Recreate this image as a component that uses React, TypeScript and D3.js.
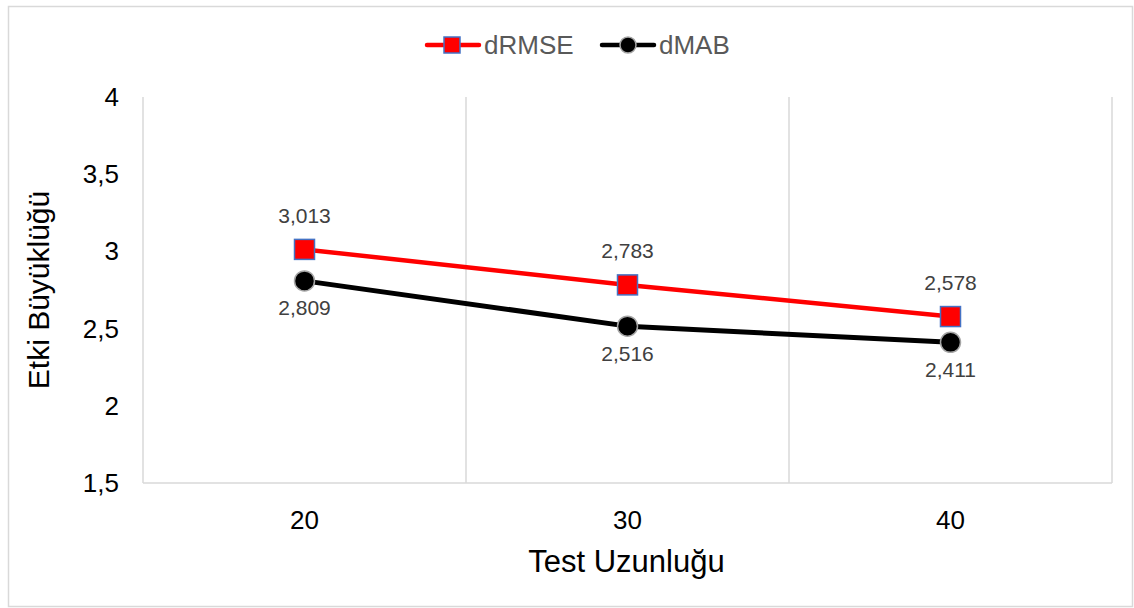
import React from "react";
import * as d3 from "d3";

const categories = ["20", "30", "40"];
const dRMSE = [3.013, 2.783, 2.578];
const dMAB = [2.809, 2.516, 2.411];
const yTicks = [1.5, 2, 2.5, 3, 3.5, 4];

const W = 1134, H = 608;
const left = 143, right = 1112, top = 97, bottom = 483;

export default function App() {
  const x = d3.scaleBand<string>().domain(categories).range([left, right]).padding(0);
  const y = d3.scaleLinear().domain([1.5, 4]).range([bottom, top]);
  const cx = (c: string) => (x(c) as number) + x.bandwidth() / 2;
  const line = d3.line<number>().x((_, i) => cx(categories[i])).y((d) => y(d));
  const fmt = (v: number) => v.toFixed(3).replace(".", ",");
  const fmtTick = (v: number) => String(v).replace(".", ",");
  const font = "Arial, 'Liberation Sans', sans-serif";
  const boundaries = [...categories.map((c) => x(c) as number), right];

  return (
    <svg width={W} height={H} style={{ position: "absolute", left: 0, top: 0 }} fontFamily={font}>
      <rect x={0} y={0} width={W} height={H} fill="#fff" />
      <rect x={8.5} y={6.5} width={1124} height={600} fill="#fff" stroke="#d9d9d9" strokeWidth={1.5} />
      {boundaries.map((b, i) => (
        <line key={i} x1={b} x2={b} y1={top} y2={bottom} stroke="#d9d9d9" strokeWidth={1.5} />
      ))}
      <line x1={left} x2={right} y1={bottom} y2={bottom} stroke="#d9d9d9" strokeWidth={1.5} />
      {yTicks.map((t) => (
        <text key={t} x={119} y={y(t)} textAnchor="end" dominantBaseline="central" fontSize={26} fill="#000">
          {fmtTick(t)}
        </text>
      ))}
      {categories.map((c) => (
        <text key={c} x={cx(c)} y={520} textAnchor="middle" dominantBaseline="central" fontSize={26} fill="#000">
          {c}
        </text>
      ))}
      <text x={(left + right) / 2 - 1} y={561} textAnchor="middle" dominantBaseline="central" fontSize={31} fill="#000">
        Test Uzunluğu
      </text>
      <text transform={`translate(38,${(top + bottom) / 2}) rotate(-90)`} textAnchor="middle" dominantBaseline="central" fontSize={30} fill="#000">
        Etki Büyüklüğü
      </text>
      <path d={line(dRMSE) || ""} fill="none" stroke="#ff0000" strokeWidth={4.5} strokeLinejoin="round" />
      <path d={line(dMAB) || ""} fill="none" stroke="#000" strokeWidth={5} strokeLinejoin="round" />
      {dRMSE.map((v, i) => (
        <g key={i}>
          <rect x={cx(categories[i]) - 10} y={y(v) - 10} width={20} height={20} fill="#ff0000" stroke="#4472c4" strokeWidth={1.5} />
          <text x={cx(categories[i])} y={y(v) - 34} textAnchor="middle" dominantBaseline="central" fontSize={21} fill="#404040">
            {fmt(v)}
          </text>
        </g>
      ))}
      {dMAB.map((v, i) => (
        <g key={i}>
          <circle cx={cx(categories[i])} cy={y(v)} r={10} fill="#000" stroke="#a5a5a5" strokeWidth={1.5} />
          <text x={cx(categories[i])} y={y(v) + 27} textAnchor="middle" dominantBaseline="central" fontSize={21} fill="#404040">
            {fmt(v)}
          </text>
        </g>
      ))}
      {/* legend */}
      <g>
        <line x1={427} x2={479} y1={45} y2={45} stroke="#ff0000" strokeWidth={4.5} strokeLinecap="round" />
        <rect x={444} y={37} width={16} height={16} fill="#ff0000" stroke="#4472c4" strokeWidth={1.5} />
        <text x={484} y={45} dominantBaseline="central" fontSize={26} fill="#595959">dRMSE</text>
        <line x1={602} x2={654} y1={45} y2={45} stroke="#000" strokeWidth={4.5} strokeLinecap="round" />
        <circle cx={628} cy={45} r={8} fill="#000" stroke="#a5a5a5" strokeWidth={1.5} />
        <text x={659} y={45} dominantBaseline="central" fontSize={26} fill="#595959">dMAB</text>
      </g>
    </svg>
  );
}
